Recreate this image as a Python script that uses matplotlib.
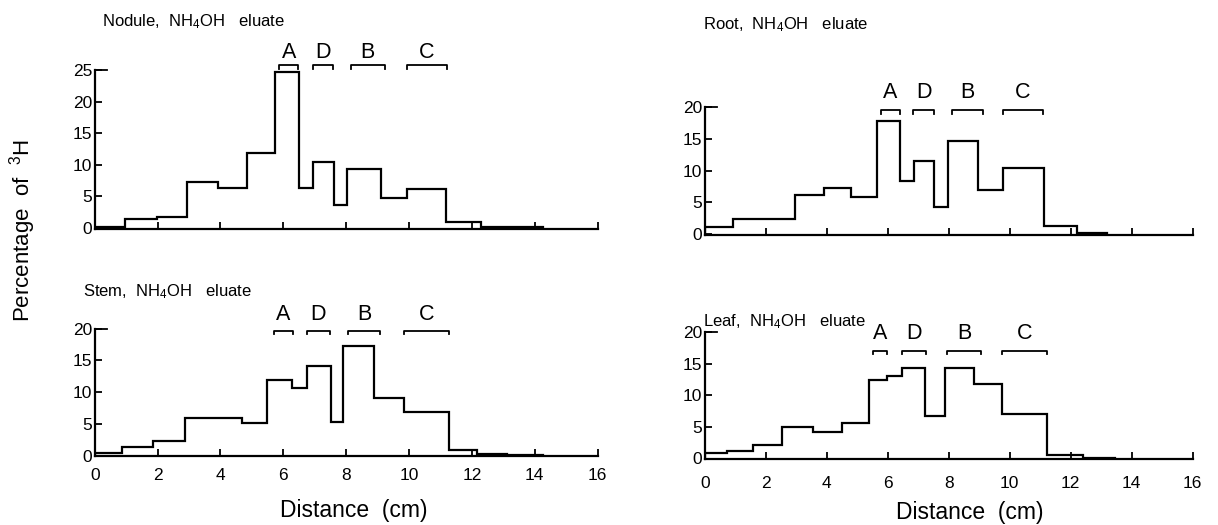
import matplotlib
matplotlib.use("Agg")
import matplotlib.pyplot as plt

plt.rcParams['font.family'] = ['Liberation Sans', 'DejaVu Sans']
plt.rcParams['mathtext.fontset'] = 'custom'
plt.rcParams['mathtext.rm'] = 'Liberation Sans'
plt.rcParams['mathtext.it'] = 'Liberation Sans'
plt.rcParams['mathtext.bf'] = 'Liberation Sans:bold'

# ---------------- data ----------------
bracket_labels = ['A', 'D', 'B', 'C']

nodule_edges = [0, 0.96, 1.97, 2.92, 3.93, 4.83, 5.73, 6.51, 6.95, 7.61, 8.02,
                9.10, 9.93, 11.18, 12.29, 13.3, 14.28]
nodule_vals = [0.2, 1.5, 1.75, 7.2, 6.3, 11.9, 24.7, 6.3, 10.4, 3.7, 9.3,
               4.7, 6.2, 1.0, 0.15, 0.08]
nodule_brackets = [(5.86, 6.48), (6.93, 7.59), (8.14, 9.24), (9.93, 11.2)]

root_edges = [0, 0.93, 2.95, 3.90, 4.80, 5.65, 6.41, 6.86, 7.53, 7.98, 8.97,
              9.79, 11.11, 12.22, 13.19]
root_vals = [1.15, 2.4, 6.2, 7.3, 5.8, 17.8, 8.4, 11.6, 4.3, 14.7, 6.9,
             10.4, 1.3, 0.2]
root_brackets = [(5.77, 6.41), (6.82, 7.53), (8.11, 9.11), (9.79, 11.08)]

stem_edges = [0, 0.88, 1.84, 2.87, 4.69, 5.49, 6.29, 6.74, 7.51, 7.91, 8.88,
              9.84, 11.28, 12.15, 13.11, 14.28]
stem_vals = [0.45, 1.3, 2.3, 5.9, 5.2, 11.9, 10.6, 14.1, 5.3, 17.2, 9.0,
             6.8, 0.9, 0.25, 0.08]
stem_brackets = [(5.71, 6.30), (6.74, 7.49), (8.05, 9.08), (9.84, 11.28)]

leaf_edges = [0, 0.71, 1.59, 2.54, 3.55, 4.50, 5.37, 5.97, 6.46, 7.23, 7.86,
              8.84, 9.75, 11.22, 12.41, 13.45]
leaf_vals = [0.8, 1.25, 2.1, 5.0, 4.15, 5.7, 12.5, 13.1, 14.4, 6.7, 14.4,
             11.8, 7.05, 0.55, 0.1]
leaf_brackets = [(5.51, 5.97), (6.46, 7.24), (7.95, 9.04), (9.73, 11.22)]

x_ticks = [0, 2, 4, 6, 8, 10, 12, 14, 16]

panels = [
    dict(title=r'Nodule,  NH$_4$OH   eluate', edges=nodule_edges, vals=nodule_vals,
         brackets=nodule_brackets, ymax=25, yticks=[0, 5, 10, 15, 20, 25],
         px=(94.8, 597.5, 70, 228, 6.32), bry=25.8, lab_y=27.8,
         title_xy=(102, 22), xlabels=False),
    dict(title=r'Root,  NH$_4$OH   eluate', edges=root_edges, vals=root_vals,
         brackets=root_brackets, ymax=20, yticks=[0, 5, 10, 15, 20],
         px=(704.9, 1192.7, 107.3, 234, 6.335), bry=19.6, lab_y=22.4,
         title_xy=(703, 25), xlabels=False),
    dict(title=r'Stem,  NH$_4$OH   eluate', edges=stem_edges, vals=stem_vals,
         brackets=stem_brackets, ymax=20, yticks=[0, 5, 10, 15, 20],
         px=(94.8, 597.5, 328.7, 455.5, 6.34), bry=19.7, lab_y=22.2,
         title_xy=(83, 292), xlabels=True, xlab_xy=(354, 511), xpad=8),
    dict(title=r'Leaf,  NH$_4$OH   eluate', edges=leaf_edges, vals=leaf_vals,
         brackets=leaf_brackets, ymax=20, yticks=[0, 5, 10, 15, 20],
         px=(704.9, 1192.7, 332.3, 458.5, 6.31), bry=17.1, lab_y=19.8,
         title_xy=(703, 322), xlabels=True, xlab_xy=(970, 512), xpad=12),
]

W, H = 1218, 525
fig = plt.figure(figsize=(W / 100, H / 100), dpi=100)
ymin = -0.15

for p in panels:
    L, R, T, Z, per = p['px']
    B = Z - ymin * per
    ax = fig.add_axes([L / W, 1 - B / H, (R - L) / W, (B - T) / H])
    ax.stairs(p['vals'], p['edges'], color='black', linewidth=1.6)
    ax.set_xlim(0, 16)
    ax.set_ylim(ymin, p['ymax'])
    for s in ['top', 'right']:
        ax.spines[s].set_visible(False)
    for s in ['left', 'bottom']:
        ax.spines[s].set_linewidth(1.6)
    ax.set_xticks(x_ticks)
    ax.set_yticks(p['yticks'])
    ax.tick_params(axis='both', direction='in', length=5, width=1.3,
                   labelsize=12.5, pad=3)
    ax.tick_params(axis='y', pad=2)
    if not p['xlabels']:
        ax.set_xticklabels([])
    else:
        ax.tick_params(axis='x', pad=p['xpad'])
    # longer top tick like reference
    ax.plot([0, 0.025], [1, 1], transform=ax.transAxes, color='black',
            linewidth=1.3, clip_on=False)
    # brackets
    d = 0.6
    for (a, b), lab in zip(p['brackets'], bracket_labels):
        ax.plot([a, a, b, b], [p['bry'] - d, p['bry'], p['bry'], p['bry'] - d],
                color='black', linewidth=1.3, clip_on=False)
        ax.text((a + b) / 2, p['lab_y'], lab, ha='center', va='center',
                fontsize=15.5, clip_on=False)
    fig.text(p['title_xy'][0] / W, 1 - p['title_xy'][1] / H, p['title'],
             ha='left', va='center', fontsize=12)
    if p['xlabels']:
        fig.text(p['xlab_xy'][0] / W, 1 - p['xlab_xy'][1] / H, 'Distance  (cm)',
                 ha='center', va='center', fontsize=16.5)

fig.text(23 / W, 1 - 231 / H, r'Percentage  of  $^3$H', rotation=90,
         ha='center', va='center', fontsize=16)

fig.savefig('out.png', dpi=100)
